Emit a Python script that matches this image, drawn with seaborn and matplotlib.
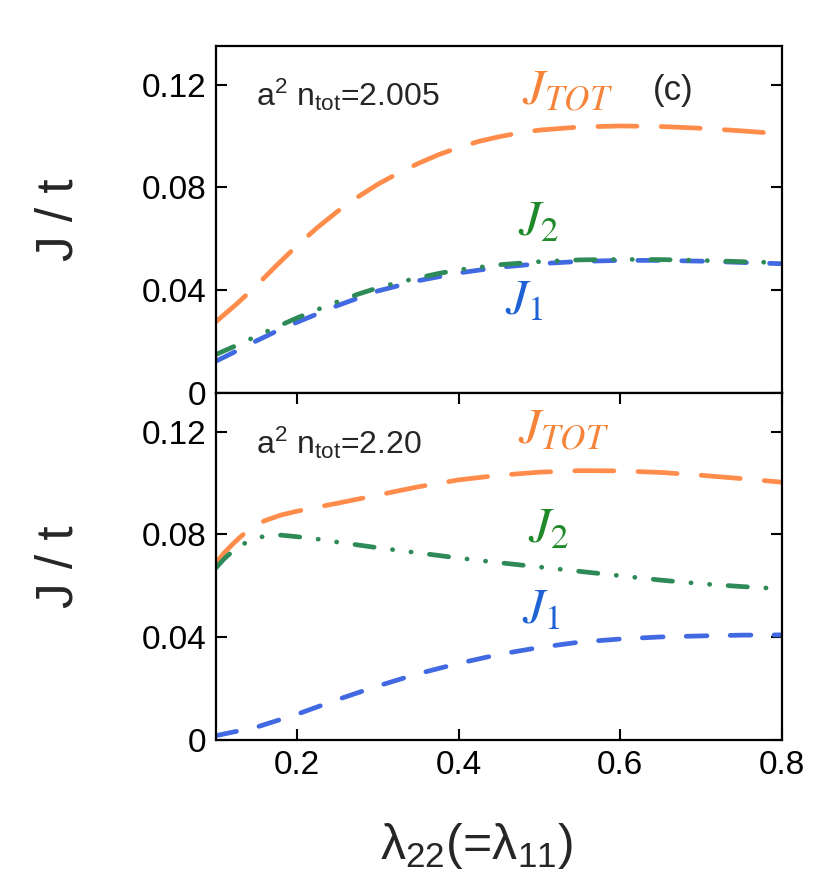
import matplotlib
matplotlib.use("Agg")
import matplotlib.pyplot as plt
import seaborn as sns
import numpy as np
import pandas as pd

# ---- data ----
x_top_tot = [0.10, 0.125, 0.15, 0.175, 0.20, 0.225, 0.25, 0.275, 0.30, 0.325, 0.35, 0.375, 0.40, 0.425, 0.45, 0.475, 0.50, 0.55, 0.60, 0.65, 0.70, 0.75, 0.80]
j_top_tot = [0.0278, 0.0345, 0.0418, 0.0497, 0.0573, 0.0643, 0.0706, 0.0762, 0.0812, 0.0855, 0.0893, 0.0927, 0.0955, 0.0979, 0.0997, 0.1012, 0.1023, 0.1035, 0.1039, 0.1037, 0.1030, 0.1020, 0.1008]

x_top_2 = [0.10, 0.125, 0.15, 0.175, 0.20, 0.225, 0.25, 0.275, 0.30, 0.325, 0.35, 0.375, 0.40, 0.45, 0.50, 0.55, 0.60, 0.65, 0.70, 0.75, 0.80]
j_top_2 = [0.0150, 0.0185, 0.0221, 0.0257, 0.0292, 0.0324, 0.0355, 0.0384, 0.0409, 0.0430, 0.0448, 0.0465, 0.0479, 0.0499, 0.0511, 0.0518, 0.0520, 0.0519, 0.0516, 0.0511, 0.0507]

x_top_1 = [0.10, 0.125, 0.15, 0.175, 0.20, 0.25, 0.30, 0.35, 0.40, 0.45, 0.50, 0.55, 0.60, 0.65, 0.70, 0.75, 0.80]
j_top_1 = [0.0124, 0.0163, 0.0203, 0.0241, 0.0275, 0.0340, 0.0397, 0.0437, 0.0467, 0.0489, 0.0503, 0.0512, 0.0516, 0.0516, 0.0513, 0.0508, 0.0503]

x_bot_tot = [0.10, 0.11, 0.12, 0.13, 0.14, 0.15, 0.16, 0.18, 0.20, 0.22, 0.25, 0.30, 0.35, 0.40, 0.45, 0.50, 0.55, 0.60, 0.65, 0.70, 0.75, 0.80]
j_bot_tot = [0.0690, 0.0728, 0.0760, 0.0790, 0.0816, 0.0837, 0.0853, 0.0875, 0.0890, 0.0903, 0.0921, 0.0953, 0.0985, 0.1012, 0.1030, 0.1042, 0.1048, 0.1047, 0.1041, 0.1030, 0.1017, 0.1003]

x_bot_2 = [0.10, 0.11, 0.12, 0.13, 0.14, 0.15, 0.16, 0.18, 0.20, 0.225, 0.25, 0.30, 0.35, 0.40, 0.45, 0.50, 0.55, 0.60, 0.65, 0.70, 0.75, 0.80]
j_bot_2 = [0.0670, 0.0705, 0.0733, 0.0756, 0.0773, 0.0785, 0.0793, 0.0797, 0.0791, 0.0782, 0.0770, 0.0748, 0.0728, 0.0708, 0.0690, 0.0673, 0.0656, 0.0639, 0.0622, 0.0608, 0.0597, 0.0588]

x_bot_1 = [0.10, 0.15, 0.20, 0.25, 0.30, 0.35, 0.40, 0.45, 0.50, 0.55, 0.60, 0.65, 0.70, 0.75, 0.80]
j_bot_1 = [0.0017, 0.0050, 0.0100, 0.0157, 0.0210, 0.0258, 0.0298, 0.0333, 0.0360, 0.0381, 0.0393, 0.0401, 0.0405, 0.0408, 0.0409]

y_ticks = [0, 0.04, 0.08, 0.12]
y_ticklabels = ["0", "0.04", "0.08", "0.12"]
x_ticks = [0.2, 0.4, 0.6, 0.8]
x_ticklabels = ["0.2", "0.4", "0.6", "0.8"]

panel_labels = [r"a$^2$ n$_{\rm tot}$=2.005", r"a$^2$ n$_{\rm tot}$=2.20"]

# ---- style ----
sns.set_theme(style="ticks")
plt.rcParams["font.family"] = ["Liberation Sans", "DejaVu Sans"]
plt.rcParams["mathtext.fontset"] = "custom"
plt.rcParams["mathtext.rm"] = "Liberation Sans"
plt.rcParams["mathtext.it"] = "Liberation Sans:italic"
plt.rcParams["mathtext.bf"] = "Liberation Sans:bold"

C_TOT = "#ff8c4a"
C_J2 = "#2e8b57"
C_J1 = "#4169e1"
T_TOT = "#f5843a"
T_J2 = "#1f8a2a"
T_J1 = "#1e62d6"

LW = 3.4
DASH_TOT = (8.3, 5.1)
DASH_J1 = (4.4, 4.9)
DASH_J2 = (4.1, 3.9, 0.05, 3.9, 0.05, 3.9)

fig = plt.figure(figsize=(8.31, 8.92), dpi=100)
L, R = 0.260, 0.941
ax_top = fig.add_axes([L, 0.5594, R - L, 0.9484 - 0.5594])
ax_bot = fig.add_axes([L, 0.1704, R - L, 0.5594 - 0.1704])


def draw(ax, xs, ys, color, dashes):
    sns.lineplot(x=xs, y=ys, ax=ax, color=color, lw=LW, sort=False)
    ln = ax.lines[-1]
    ln.set_dashes(dashes)
    ln.set_dash_capstyle("round")


draw(ax_top, x_top_tot, j_top_tot, C_TOT, DASH_TOT)
draw(ax_top, x_top_1, j_top_1, C_J1, DASH_J1)
draw(ax_top, x_top_2, j_top_2, C_J2, DASH_J2)

draw(ax_bot, x_bot_tot, j_bot_tot, C_TOT, DASH_TOT)
draw(ax_bot, x_bot_2, j_bot_2, C_J2, DASH_J2)
draw(ax_bot, x_bot_1, j_bot_1, C_J1, DASH_J1)

for ax in (ax_top, ax_bot):
    ax.set_xlim(0.1, 0.8)
    ax.set_ylim(0, 0.135)
    ax.set_yticks(y_ticks)
    ax.set_yticklabels(y_ticklabels)
    ax.set_xticks(x_ticks)
    for s in ax.spines.values():
        s.set_visible(True)
        s.set_linewidth(1.6)
        s.set_color("black")
    ax.tick_params(axis="both", direction="in", length=8, width=1.5,
                   labelsize=24, colors="black", pad=7)
    ax.set_ylabel("J / t", fontsize=37)
    ax.yaxis.set_label_coords(-0.235, 0.5)
    ax.set_xlabel("")

ax_top.tick_params(axis="y", left=True, right=True)
ax_top.tick_params(axis="x", bottom=False, top=False, labelbottom=False)
ax_bot.tick_params(axis="y", left=True, right=True)
ax_bot.tick_params(axis="x", bottom=True, top=True, labelbottom=True)
ax_bot.set_xticklabels(x_ticklabels)
ax_bot.set_xlabel(r"λ$_{22}$(=λ$_{11}$)", fontsize=36)
ax_bot.xaxis.set_label_coords(0.46, -0.232)

# ---- annotations ----
ax_top.text(0.150, 0.1118, panel_labels[0], fontsize=23, va="baseline")
ax_bot.text(0.150, 0.1115, panel_labels[1], fontsize=23, va="baseline")

ax_top.text(0.640, 0.1178, "(c)", fontsize=25, va="center")

ax_top.text(0.479, 0.1124, r"$J_{TOT}$", fontsize=36, color=T_TOT, va="baseline", math_fontfamily="stix")
ax_top.text(0.474, 0.0614, r"$J_2$", fontsize=36, color=T_J2, va="baseline", math_fontfamily="stix")
ax_top.text(0.458, 0.0307, r"$J_1$", fontsize=36, color=T_J1, va="baseline", math_fontfamily="stix")

ax_bot.text(0.474, 0.1154, r"$J_{TOT}$", fontsize=36, color=T_TOT, va="baseline", math_fontfamily="stix")
ax_bot.text(0.486, 0.0767, r"$J_2$", fontsize=36, color=T_J2, va="baseline", math_fontfamily="stix")
ax_bot.text(0.479, 0.0452, r"$J_1$", fontsize=36, color=T_J1, va="baseline", math_fontfamily="stix")

fig.savefig("out.png", dpi=100)
